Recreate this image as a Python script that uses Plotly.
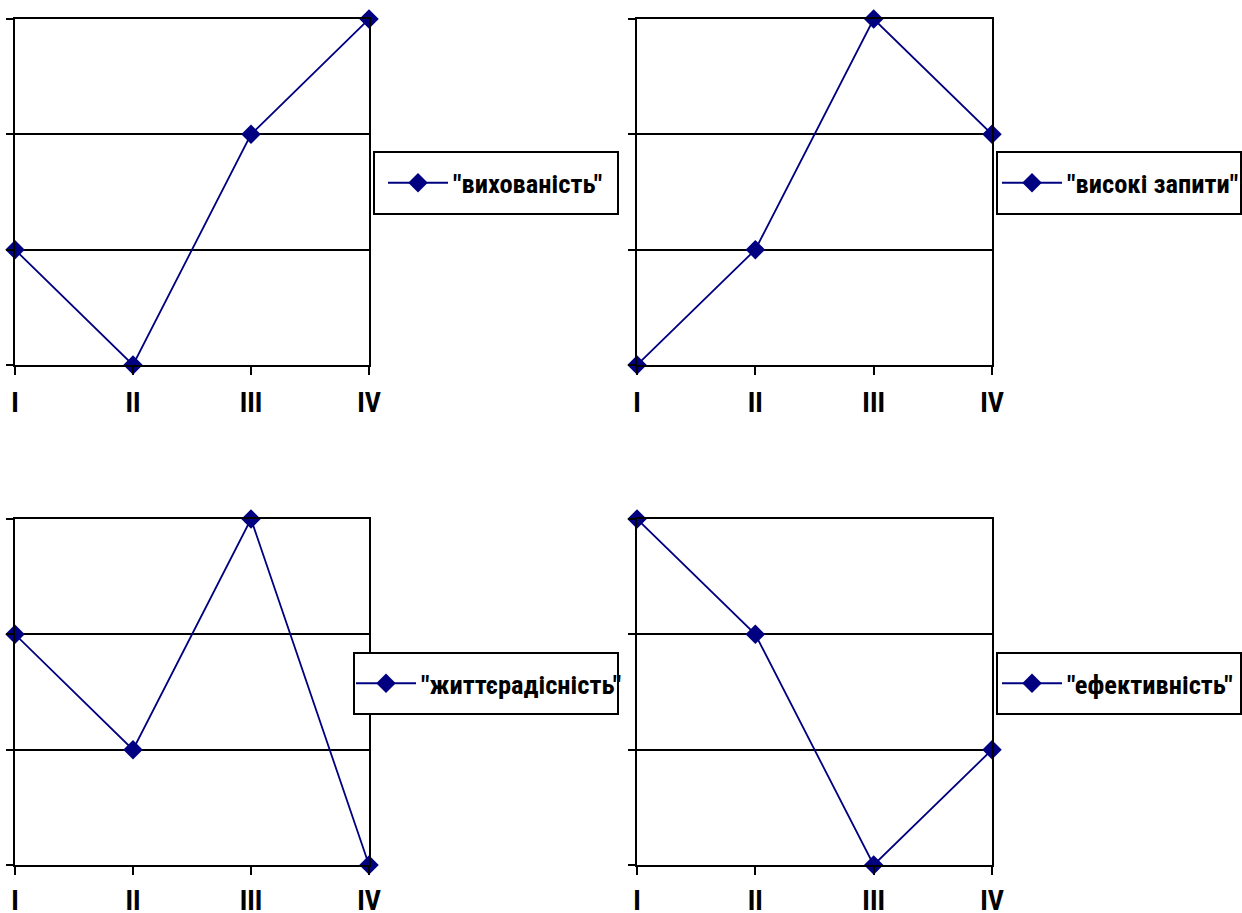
import plotly.graph_objects as go

categories = ["I", "II", "III", "IV"]
names = ['"вихованість"', '"високі запити"', '"життєрадісність"', '"ефективність"']
v1 = [1, 0, 2, 3]
v2 = [0, 1, 3, 2]
v3 = [2, 1, 3, 0]
v4 = [3, 2, 0, 1]
series = [v1, v2, v3, v4]

W, H = 1242, 913
FONT = "Roboto Condensed, Liberation Sans, sans-serif"
NAVY = "#000080"

# plot area pixel boxes (left, right, top, bottom)
boxes = [(15, 369, 19, 365), (637, 992, 19, 365), (15, 369, 519, 865), (637, 992, 519, 865)]
# legend frames (left, right, top, bottom)
legboxes = [(374, 618, 152, 214), (997, 1241, 152, 214), (354, 618, 653, 714), (997, 1241, 653, 714)]
# pixel x where legend text starts
legtext = [453, 1067, 421, 1067]
standoffs = [3, 3, 1, 1]

fig = go.Figure()
xs = list(range(len(categories)))
for i, (vals, name) in enumerate(zip(series, names)):
    sfx = "" if i == 0 else str(i + 1)
    fig.add_trace(go.Scatter(
        x=xs, y=vals, mode="lines+markers", name=name,
        line=dict(color=NAVY, width=1.8),
        marker=dict(symbol="diamond", size=15, color=NAVY),
        cliponaxis=False,
        xaxis="x" + sfx, yaxis="y" + sfx, legend="legend" + sfx,
        showlegend=True,
    ))
    l, r, t, b = boxes[i]
    fig.layout["xaxis" + sfx] = dict(
        domain=[l / W, r / W], range=[0, 3], anchor="y" + sfx,
        tickvals=xs, ticktext=categories, ticks="outside", ticklen=8,
        tickwidth=2, tickcolor="black", showgrid=False, showline=True,
        linecolor="black", linewidth=2, mirror=True, zeroline=False,
        tickfont=dict(family=FONT, size=28, color="black", weight="bold"),
        ticklabelstandoff=standoffs[i], fixedrange=True, automargin=False,
    )
    fig.layout["yaxis" + sfx] = dict(
        domain=[1 - b / H, 1 - t / H], range=[0, 3], anchor="x" + sfx,
        tickvals=[0, 1, 2, 3], showticklabels=False, ticks="outside",
        ticklen=7, tickwidth=2, tickcolor="black", showgrid=True,
        gridcolor="black", gridwidth=2, showline=True, linecolor="black",
        linewidth=2, mirror=True, zeroline=False, fixedrange=True,
        automargin=False,
    )
    bl, br, bt, bb = legboxes[i]
    fig.add_shape(type="rect", xref="paper", yref="paper",
                  x0=bl / W, x1=br / W, y0=1 - bb / H, y1=1 - bt / H,
                  line=dict(color="black", width=2), fillcolor="white", layer="above")
    fig.layout["legend" + sfx] = dict(
        x=(legtext[i] - 70) / W, y=1 - (bt + bb) / 2 / H, xanchor="left", yanchor="middle",
        xref="paper", yref="paper",
        borderwidth=0, bgcolor="rgba(0,0,0,0)",
        font=dict(family=FONT, size=26.5, color="black", weight="bold"),
        itemwidth=60,
    )

fig.update_layout(
    width=W, height=H, margin=dict(l=0, r=0, t=0, b=0, autoexpand=False),
    paper_bgcolor="white", plot_bgcolor="white",
)
fig.write_html(
    "out.html",
    config={"displayModeBar": False},
    post_script="document.body.style.margin='0';document.body.style.padding='0';"
                "document.body.style.overflow='hidden';",
)
